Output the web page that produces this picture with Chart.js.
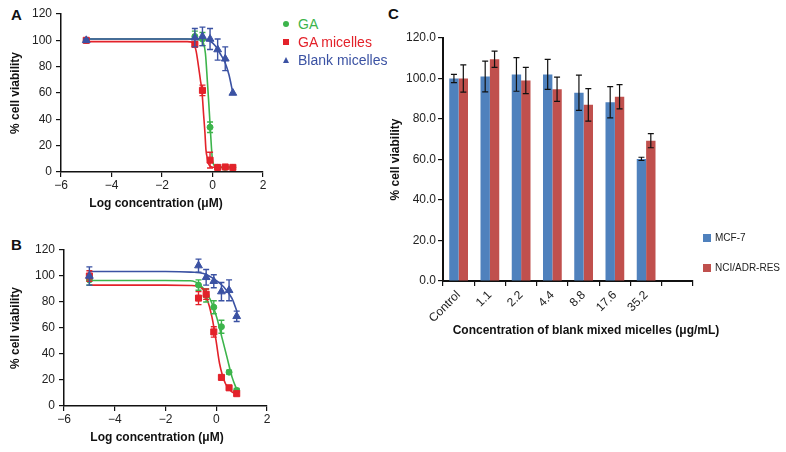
<!DOCTYPE html>
<html>
<head>
<meta charset="utf-8">
<script src="https://cdn.jsdelivr.net/npm/chart.js@4.4.0/dist/chart.umd.min.js"></script>
<style>
  body { margin:0; background:#fff; width:786px; height:452px; position:relative; overflow:hidden;
         font-family:"Liberation Sans", Arial, sans-serif; }
  .panel { position:absolute; }
  .tag { position:absolute; font-weight:bold; font-size:15px; color:#111; }
  .xtitle { position:absolute; font-weight:bold; font-size:12px; color:#111; white-space:nowrap; transform:translate(-50%,-50%); }
  .leg { position:absolute; font-size:14px; white-space:nowrap; line-height:16px; }
  .leg i { position:absolute; left:-15px; top:5px; }
  .dot { width:6px; height:6px; border-radius:50%; }
  .sq { width:6px; height:6px; }
  .tri { width:0; height:0; border-left:3.5px solid transparent; border-right:3.5px solid transparent; border-bottom:6px solid; }
  .legc { position:absolute; font-size:10px; color:#222; white-space:nowrap; line-height:14px; }
  .legc i { position:absolute; left:-12px; top:3px; width:8px; height:8px; }
</style>
</head>
<body>

<div class="tag" style="left:11px;top:6px">A</div>
<div class="tag" style="left:11px;top:236px">B</div>
<div class="tag" style="left:388px;top:5px">C</div>

<div class="panel" style="left:0;top:0;width:275px;height:215px"><canvas id="chartA" width="275" height="215"></canvas></div>
<div class="panel" style="left:0;top:235px;width:275px;height:215px"><canvas id="chartB" width="275" height="215"></canvas></div>
<div class="panel" style="left:380px;top:0;width:406px;height:345px"><canvas id="chartC" width="406" height="345"></canvas></div>

<div class="xtitle" style="left:156px;top:203px">Log concentration (μM)</div>
<div class="xtitle" style="left:157px;top:437px">Log concentration (μM)</div>
<div class="xtitle" style="left:586px;top:330px">Concentration of blank mixed micelles (μg/mL)</div>

<div class="leg" style="left:298px;top:16px;color:#3cb44b"><i class="dot" style="background:#3cb44b"></i>GA</div>
<div class="leg" style="left:298px;top:34px;color:#e3222a"><i class="sq" style="background:#e3222a"></i>GA micelles</div>
<div class="leg" style="left:298px;top:52px;color:#3b52a3"><i class="tri" style="border-bottom-color:#3b52a3"></i>Blank micelles</div>

<div class="legc" style="left:715px;top:231px"><i style="background:#4f81bd"></i>MCF-7</div>
<div class="legc" style="left:715px;top:261px"><i style="background:#c0504d"></i>NCI/ADR-RES</div>

<script>
// ---------- datos ----------
// dosis (log µM), panel A y B
const logDose = [-5, -0.699, -0.398, -0.097, 0.204, 0.505, 0.806];

// Panel A
const gaA      = [100, 103, 101, 34, 3.5, 3.5, 3.5];
const gaA_err  = [1, 4, 5, 4, 1, 1, 1];
const gamA     = [100, 97, 62, 9, 3.5, 3.8, 3.5];
const gamA_err = [1, 2, 4, 6, 1, 1, 1];
const blkA     = [100, 102, 103, 101, 93, 86, 60];
const blkA_err = [1, 7, 7, 8, 8, 9, 0];

// curvas ajustadas
const gaA_cx  = [-5, -1, -0.5, -0.36, -0.28, -0.2, -0.14, -0.09, -0.04, 0, 0.05, 0.1, 0.17, 0.3, 0.806];
const gaA_cy  = [101, 101, 100.5, 98, 90, 68, 50, 34, 18, 9, 5.5, 4.2, 3.6, 3.5, 3.5];
const gamA_cx = [-5, -1, -0.8, -0.73, -0.65, -0.56, -0.48, -0.42, -0.35, -0.3, -0.26, -0.2, -0.17, -0.1, 0.03, 0.2, 0.806];
const gamA_cy = [99, 99, 98.5, 97, 92, 81, 70, 62, 43, 30, 17, 10, 7, 4.5, 3.6, 3.5, 3.5];
const blkA_cx = [-5, -1, -0.5, -0.3, -0.1, 0.1, 0.3, 0.5, 0.65, 0.806];
const blkA_cy = [101, 101, 100.8, 100.5, 99.5, 96, 90, 83, 74, 60];

// Panel B
const gaB      = [97, 93, 85, 76, 61, 26, 12];
const gaB_err  = [4, 4, 5, 5, 5, 1.5, 1.5];
const gamB     = [100, 83, 86, 57, 22, 14, 9.5];
const gamB_err = [4, 5, 4, 4, 1.5, 1.5, 1.5];
const blkB     = [100, 108, 99, 96, 88, 89, 69];
const blkB_err = [7, 5, 6, 5, 7, 8, 4];

const gaB_cx  = [-5, -2, -1.03, -0.63, -0.37, -0.17, 0.03, 0.22, 0.42, 0.62, 0.82];
const gaB_cy  = [96.5, 96.5, 96.3, 93, 86.6, 79, 67.4, 53, 37.8, 22.4, 12];
const gamB_cx = [-5, -2, -1, -0.56, -0.37, -0.17, -0.01, 0.13, 0.36, 0.62, 0.82];
const gamB_cy = [93, 93, 92.7, 90.5, 82.8, 68.6, 50.6, 32.7, 17.3, 10.8, 9.5];
const blkB_cx = [-5, -2, -1, -0.5, -0.1, 0.29, 0.62, 0.82];
const blkB_cy = [103.5, 103.5, 103, 102, 98, 91.7, 82.8, 72.5];

// Panel C
const concLabels = ['Control', '1.1', '2.2', '4.4', '8.8', '17.6', '35.2', ''];
const mcf7     = [100, 101, 102, 102, 93, 88.3, 60.3, null];
const mcf7_err = [2, 7.6, 8.3, 7.4, 8.7, 7.7, 0.8, 0];
const nci      = [100, 109.5, 99, 94.7, 87, 91, 69.3, null];
const nci_err  = [6.7, 4, 6.5, 6, 8, 6, 3.5, 0];

const GREEN = '#3cb44b', RED = '#e3222a', BLUE = '#3b52a3';

// ---------- barras de error ----------
const errorBars = {
    id: 'errorBars',
    beforeDatasetDraw(chart, args) { if (chart.data.datasets[args.index].errorsUnder) draw(chart, args); },
    afterDatasetDraw(chart, args)  { if (!chart.data.datasets[args.index].errorsUnder) draw(chart, args); }
};
function draw(chart, args) {
    const ds = chart.data.datasets[args.index];
    if (!ds.errors) return;
    const y = chart.scales.y, ctx = chart.ctx;
    ctx.save();
    ctx.strokeStyle = ds.errorColor || ds.borderColor;
    ctx.lineWidth = ds.errorWidth || 1.3;
    args.meta.data.forEach((el, i) => {
        const d = ds.data[i];
        const v = (d !== null && typeof d === 'object') ? d.y : d;
        const e = ds.errors[i];
        if (v == null || !e) return;
        const top = y.getPixelForValue(v + e), bot = y.getPixelForValue(v - e);
        const x = el.x, cap = ds.capWidth || 3;
        ctx.beginPath();
        ctx.moveTo(x, top); ctx.lineTo(x, bot);
        ctx.moveTo(x - cap, top); ctx.lineTo(x + cap, top);
        ctx.moveTo(x - cap, bot); ctx.lineTo(x + cap, bot);
        ctx.stroke();
    });
    ctx.restore();
}

Chart.defaults.font.family = '"Liberation Sans", Arial, sans-serif';
Chart.defaults.color = '#222';

const pts = (xs, ys) => xs.map((x, i) => ({ x: x, y: ys[i] }));

const curve = (xs, ys, color, order) => ({
    data: pts(xs, ys), showLine: true, borderColor: color, borderWidth: 1.6,
    pointRadius: 0, cubicInterpolationMode: 'monotone', order: order
});
const marks = (ys, errs, color, style, r, order) => ({
    data: pts(logDose, ys), showLine: false, pointStyle: style, pointRadius: r,
    backgroundColor: color, borderColor: color, borderWidth: 1,
    errors: errs, errorsUnder: true, capWidth: 3, errorWidth: 1.4, order: order
});

function doseScales(yWidth, xHeight) {
    return {
        x: {
            type: 'linear', min: -6, max: 2,
            ticks: { stepSize: 2, padding: 1, font: { size: 12 }, color: '#222',
                     callback: v => String(v).replace('-', '\u2212') },
            grid: { drawOnChartArea: false, tickLength: 5, color: '#111', lineWidth: 1.2 },
            border: { color: '#111', width: 1.5 },
            afterFit: s => { s.height = xHeight; }
        },
        y: {
            min: 0, max: 120,
            ticks: { stepSize: 20, padding: 4, font: { size: 12 }, color: '#222' },
            grid: { drawOnChartArea: false, tickLength: 5, color: '#111', lineWidth: 1.2 },
            border: { color: '#111', width: 1.5 },
            title: { display: true, text: '% cell viability', font: { size: 12, weight: 'bold' }, color: '#111',
                     padding: { top: 8, bottom: 0 } },
            afterFit: s => { s.width = yWidth; }
        }
    };
}

function doseChart(id, sets, pad, yWidth, xHeight) {
    new Chart(document.getElementById(id), {
        type: 'scatter',
        data: { datasets: sets },
        options: {
            responsive: false, animation: false, devicePixelRatio: 1,
            layout: { padding: pad },
            scales: doseScales(yWidth, xHeight),
            plugins: { legend: { display: false }, tooltip: { enabled: false } }
        },
        plugins: [errorBars]
    });
}

doseChart('chartA', [
    curve(gaA_cx, gaA_cy, GREEN, 10),
    curve(gamA_cx, gamA_cy, RED, 9),
    curve(blkA_cx, blkA_cy, BLUE, 8),
    marks(gaA, gaA_err, GREEN, 'circle', 3, 3),
    marks(gamA, gamA_err, RED, 'rect', 4.3, 2),
    marks(blkA, blkA_err, BLUE, 'triangle', 4.5, 1)
], { top: 14, right: 12, left: 0, bottom: 0 }, 61, 43);

doseChart('chartB', [
    curve(gaB_cx, gaB_cy, GREEN, 10),
    curve(gamB_cx, gamB_cy, RED, 9),
    curve(blkB_cx, blkB_cy, BLUE, 8),
    marks(gaB, gaB_err, GREEN, 'circle', 3, 3),
    marks(gamB, gamB_err, RED, 'rect', 4.3, 2),
    marks(blkB, blkB_err, BLUE, 'triangle', 4.5, 1)
], { top: 15, right: 8, left: 0, bottom: 0 }, 64, 44);

// ---------- panel C ----------
new Chart(document.getElementById('chartC'), {
    type: 'bar',
    data: {
        labels: concLabels,
        datasets: [
            { label: 'MCF-7', data: mcf7, backgroundColor: '#4f81bd', errors: mcf7_err,
              errorColor: '#111', errorWidth: 1.2, capWidth: 3 },
            { label: 'NCI/ADR-RES', data: nci, backgroundColor: '#c0504d', errors: nci_err,
              errorColor: '#111', errorWidth: 1.2, capWidth: 3 }
        ]
    },
    options: {
        responsive: false, animation: false, devicePixelRatio: 1,
        layout: { padding: { top: 38, right: 93, left: 0, bottom: 0 } },
        datasets: { bar: { categoryPercentage: 0.6, barPercentage: 1.0 } },
        scales: {
            x: {
                ticks: { maxRotation: 45, minRotation: 45, padding: 2, font: { size: 12 }, color: '#222' },
                grid: { drawOnChartArea: false, tickLength: 5, color: '#111', lineWidth: 1.2 },
                border: { color: '#111', width: 2 },
                afterFit: s => { s.height = 64; }
            },
            y: {
                min: 0, max: 120,
                ticks: { stepSize: 20, padding: 2, font: { size: 12 }, color: '#222', callback: v => v.toFixed(1) },
                grid: { drawOnChartArea: false, tickLength: 5, color: '#111', lineWidth: 1.2 },
                border: { color: '#111', width: 2 },
                title: { display: true, text: '% cell viability', font: { size: 12, weight: 'bold' }, color: '#111',
                         padding: { top: 8, bottom: 0 } },
                afterFit: s => { s.width = 63; }
            }
        },
        plugins: { legend: { display: false }, tooltip: { enabled: false } }
    },
    plugins: [errorBars]
});
</script>
</body>
</html>
